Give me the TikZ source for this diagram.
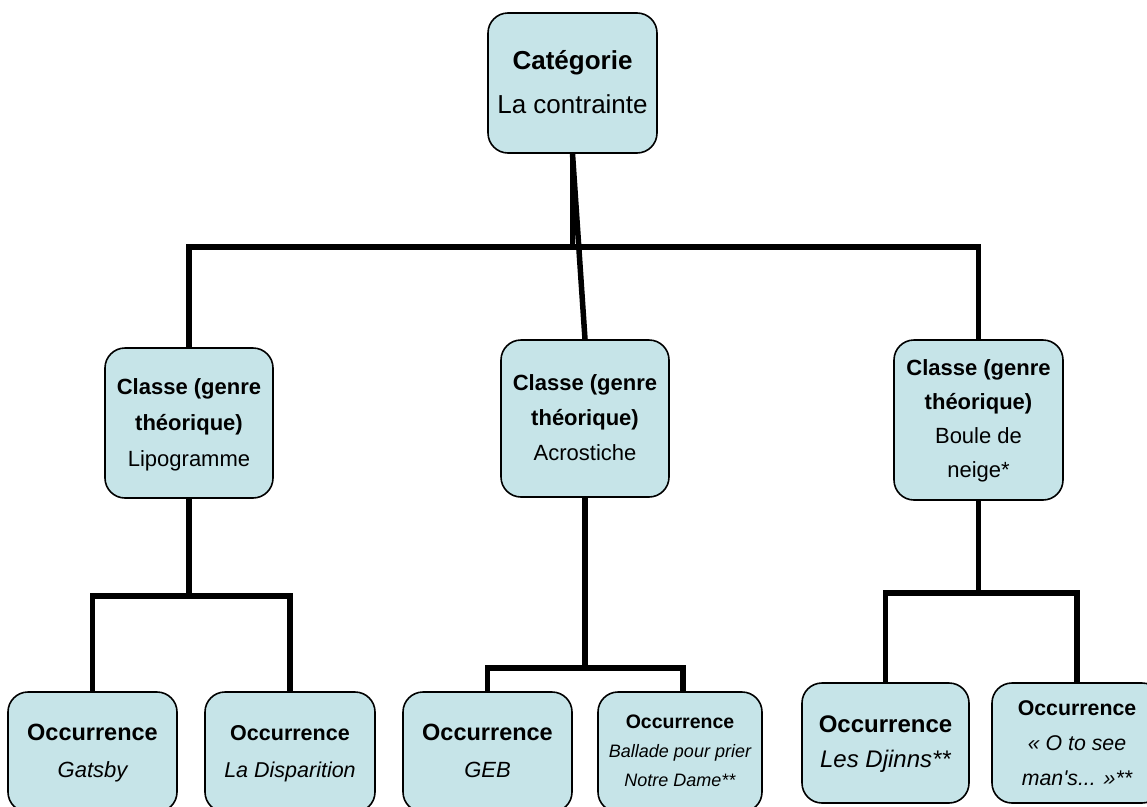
\documentclass[tikz,border=0pt]{standalone}
\usepackage{fontspec}
\setmainfont{Liberation Sans}
\definecolor{boxfill}{RGB}{198,228,232}
\tikzset{
  box/.style={draw=black, line width=1.6pt, fill=boxfill, rounded corners=20pt, inner sep=0pt},
  link/.style={line width=5.5pt, line join=miter, draw=black},
}
\begin{document}
\begin{tikzpicture}[x=1pt,y=-1pt]
\useasboundingbox (0,0) rectangle (1147,806);
\clip (0,0) rectangle (1147,806);

% top
\node[box, minimum width=169pt, minimum height=140pt] (top) at (572.5,83)
  {\fontsize{26}{44}\selectfont\begin{tabular}{@{}c@{}}\textbf{Catégorie}\\La contrainte\end{tabular}};

% classes
\node[box, minimum width=168pt, minimum height=150pt] (lipo) at (189,423)
  {\fontsize{22}{36}\selectfont\begin{tabular}{@{}c@{}}\textbf{Classe (genre}\\\textbf{théorique)}\\Lipogramme\end{tabular}};
\node[box, minimum width=168pt, minimum height=157pt] (acro) at (585,418.5)
  {\fontsize{22}{35}\selectfont\begin{tabular}{@{}c@{}}\textbf{Classe (genre}\\\textbf{théorique)}\\Acrostiche\end{tabular}};
\node[box, minimum width=169pt, minimum height=160pt] (boule) at (978.5,420)
  {\fontsize{22}{34}\selectfont\begin{tabular}{@{}c@{}}\textbf{Classe (genre}\\\textbf{théorique)}\\Boule de\\neige*\end{tabular}};

% occurrences
\node[box, minimum width=169pt, minimum height=120pt] (gatsby) at (92.5,752)
  {\fontsize{22}{37}\selectfont\begin{tabular}{@{}c@{}}{\fontsize{23.5}{37}\selectfont\textbf{Occurrence}}\\\itshape Gatsby\end{tabular}};
\node[box, minimum width=170pt, minimum height=120pt] (disp) at (290,752)
  {\fontsize{21.5}{37}\selectfont\begin{tabular}{@{}c@{}}\textbf{Occurrence}\\\itshape La Disparition\end{tabular}};
\node[box, minimum width=169pt, minimum height=120pt] (geb) at (487.5,752)
  {\fontsize{22}{37}\selectfont\begin{tabular}{@{}c@{}}{\fontsize{23.5}{37}\selectfont\textbf{Occurrence}}\\\itshape GEB\end{tabular}};
\node[box, minimum width=164pt, minimum height=120pt] (ballade) at (680,752)
  {\fontsize{18}{29}\selectfont\begin{tabular}{@{}c@{}}{\fontsize{19.5}{29}\selectfont\textbf{Occurrence}}\\\itshape Ballade pour prier\\\itshape Notre Dame**\end{tabular}};
\node[box, minimum width=167pt, minimum height=120pt] (djinns) at (885.5,743)
  {\fontsize{24}{35}\selectfont\begin{tabular}{@{}c@{}}\textbf{Occurrence}\\\itshape Les Djinns**\end{tabular}};
\node[box, minimum width=170pt, minimum height=120pt] (ose) at (1077,743)
  {\fontsize{21.3}{35}\selectfont\begin{tabular}{@{}c@{}}\textbf{Occurrence}\\\itshape « O to see\\\itshape man\textquotesingle s... »**\end{tabular}};

% connectors
\coordinate (j1) at (572.5,247);
\coordinate (j2) at (189,596);
\coordinate (j3) at (585,668);
\coordinate (j4) at (978.5,593);

\draw[link] (top.south) -- (j1);
\draw[link] (j1) -| (lipo.north);
\draw[link] (j1) -| (boule.north);
\draw[link] (top.south) -- (acro.north);

\draw[link] (lipo.south) -- (j2);
\draw[link] (j2) -| (gatsby.north);
\draw[link] (j2) -| (disp.north);

\draw[link] (acro.south) -- (j3);
\draw[link] (j3) -| (geb.north);
\draw[link] (j3) -| ([xshift=3pt]ballade.north);

\draw[link] (boule.south) -- (j4);
\draw[link] (j4) -| (djinns.north);
\draw[link] (j4) -| (ose.north);
\end{tikzpicture}
\end{document}
